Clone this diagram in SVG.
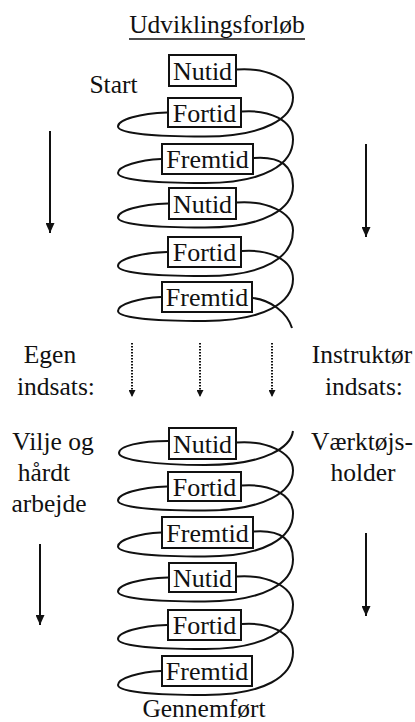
<svg xmlns="http://www.w3.org/2000/svg" width="415" height="722" viewBox="0 0 415 722" font-family="'Liberation Serif', 'Times New Roman', Times, 'DejaVu Serif', serif">
<defs>
<style>
text{font-family:'Liberation Serif','Times New Roman',Times,'DejaVu Serif',serif;font-size:25.5px;fill:#111}
.lbl{text-anchor:middle}
.box rect{fill:#fff;stroke:#111;stroke-width:2}
.box text{text-anchor:middle;font-size:26px}
.coil{fill:none;stroke:#111;stroke-width:2}
.arr{stroke:#111;stroke-width:2;fill:none}
.dot{stroke:#111;stroke-width:2;fill:none;stroke-dasharray:1.5 1.5}
</style>
<marker id="ah" markerUnits="userSpaceOnUse" markerWidth="10" markerHeight="9" refX="10" refY="4.5" orient="auto"><path d="M0,0 L10,4.5 L0,9 z" fill="#111"/></marker>
<marker id="ahs" markerUnits="userSpaceOnUse" markerWidth="7" markerHeight="7" refX="7" refY="3.5" orient="auto"><path d="M0,0 L7,3.5 L0,7 z" fill="#111"/></marker>
</defs>
<rect width="415" height="722" fill="#fff"/>
<g id="title">
<text x="217" y="33" class="lbl">Udviklingsforløb</text>
<line x1="129" y1="39" x2="305" y2="39" stroke="#111" stroke-width="1.5"/>
</g>
<g id="labels">
<text x="113.5" y="93" class="lbl">Start</text>
<text x="50" y="363" class="lbl">Egen</text>
<text x="56" y="395" class="lbl">indsats:</text>
<text x="362" y="363" class="lbl">Instruktør</text>
<text x="364" y="395" class="lbl">indsats:</text>
<text x="53" y="450" class="lbl">Vilje og</text>
<text x="44" y="481" class="lbl">hårdt</text>
<text x="49" y="512" class="lbl">arbejde</text>
<text x="362" y="450" class="lbl">Værktøjs-</text>
<text x="363" y="481" class="lbl">holder</text>
<text x="204" y="717" class="lbl">Gennemført</text>
</g>
<g id="connectors">
<path class="coil" d="M237,69.5 C265,67.5 293,78.5 293,97.5 C293,117.5 265,136.5 205,136.5 C155,136.5 118,133.5 118,126.5 C118,119.5 140,113.5 167,112.5"/>
<path class="coil" d="M242,111.5 C270,109.5 293,120.5 293,139.5 C293,164 265,183 205,183 C155,183 118,180 118,173 C118,166 140,160 161,159"/>
<path class="coil" d="M254,158 C282,156 293,167 293,186 C293,208.5 265,227.5 205,227.5 C155,227.5 118,224.5 118,217.5 C118,210.5 140,204.5 168,203.5"/>
<path class="coil" d="M237,202.5 C265,200.5 293,211.5 293,230.5 C293,257 265,276 205,276 C155,276 118,273 118,266 C118,259 140,253 167,252"/>
<path class="coil" d="M242,251 C270,249 293,260 293,279 C293,302 265,321 205,321 C155,321 118,318 118,311 C118,304 140,298 161,297"/>
<path class="coil" d="M253,298 C270,300 287,312 292,328"/>
<path class="coil" d="M293,431 C291,446 268,465 205,465 C155,465 119,460 119,453 C119,446 140,441 168,441"/>
<path class="coil" d="M237,442.5 C265,440.5 293,451.5 293,470.5 C293,491.5 265,510.5 205,510.5 C155,510.5 118,507.5 118,500.5 C118,493.5 140,487.5 167,486.5"/>
<path class="coil" d="M242,485.5 C270,483.5 293,494.5 293,513.5 C293,537.5 265,556.5 205,556.5 C155,556.5 118,553.5 118,546.5 C118,539.5 140,533.5 161,532.5"/>
<path class="coil" d="M254,531.5 C282,529.5 293,540.5 293,559.5 C293,582.5 265,601.5 205,601.5 C155,601.5 118,598.5 118,591.5 C118,584.5 140,578.5 168,577.5"/>
<path class="coil" d="M237,576.5 C265,574.5 293,585.5 293,604.5 C293,630 265,649 205,649 C155,649 118,646 118,639 C118,632 140,626 167,625"/>
<path class="coil" d="M242,624 C270,622 293,633 293,652 C293,676 265,695 205,695 C155,695 118,692 118,685 C118,678 140,672 161,671"/>
<line class="arr" x1="50" y1="131" x2="50" y2="233" marker-end="url(#ah)"/>
<line class="arr" x1="366" y1="144" x2="366" y2="237" marker-end="url(#ah)"/>
<line class="arr" x1="40" y1="544" x2="40" y2="625" marker-end="url(#ah)"/>
<line class="arr" x1="366" y1="533" x2="366" y2="616" marker-end="url(#ah)"/>
<line class="dot" x1="132" y1="343" x2="132" y2="397" marker-end="url(#ahs)"/>
<line class="dot" x1="200" y1="343" x2="200" y2="397" marker-end="url(#ahs)"/>
<line class="dot" x1="272" y1="343" x2="272" y2="397" marker-end="url(#ahs)"/>
</g>
<g id="nutid1" class="box"><rect x="169" y="55" width="67" height="31"/><text x="202.5" y="80">Nutid</text></g>
<g id="fortid1" class="box"><rect x="168" y="98" width="73" height="29"/><text x="204.5" y="121.5">Fortid</text></g>
<g id="fremtid1" class="box"><rect x="162" y="144" width="91" height="30"/><text x="207.5" y="168">Fremtid</text></g>
<g id="nutid2" class="box"><rect x="169" y="188" width="67" height="31"/><text x="202.5" y="212.5">Nutid</text></g>
<g id="fortid2" class="box"><rect x="168" y="237" width="73" height="30"/><text x="204.5" y="261">Fortid</text></g>
<g id="fremtid2" class="box"><rect x="162" y="282" width="90" height="30"/><text x="207" y="306">Fremtid</text></g>
<g id="nutid3" class="box"><rect x="169" y="428" width="67" height="31"/><text x="202.5" y="452.5">Nutid</text></g>
<g id="fortid3" class="box"><rect x="168" y="472" width="73" height="29"/><text x="204.5" y="495.5">Fortid</text></g>
<g id="fremtid3" class="box"><rect x="162" y="517" width="91" height="31"/><text x="207.5" y="541.5">Fremtid</text></g>
<g id="nutid4" class="box"><rect x="169" y="563" width="67" height="29"/><text x="202.5" y="586.5">Nutid</text></g>
<g id="fortid4" class="box"><rect x="168" y="610" width="73" height="30"/><text x="204.5" y="634">Fortid</text></g>
<g id="fremtid4" class="box"><rect x="162" y="656" width="90" height="30"/><text x="207" y="680">Fremtid</text></g>
</svg>
